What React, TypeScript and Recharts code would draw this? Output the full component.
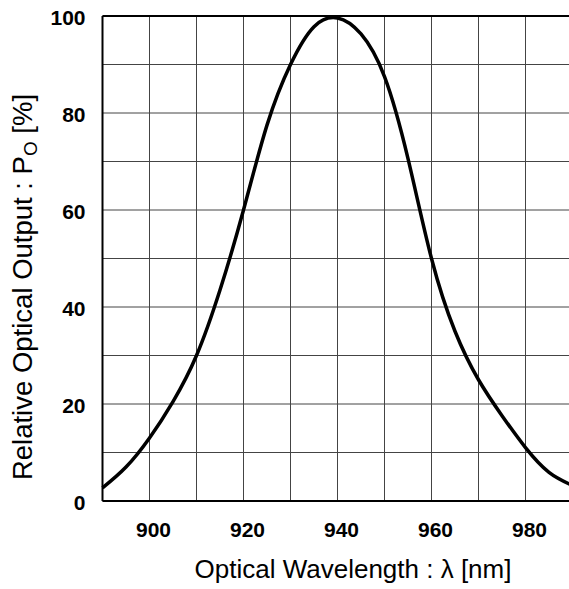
import React from "react";
import {
  LineChart,
  Line,
  XAxis,
  YAxis,
  CartesianGrid,
  ReferenceLine,
  Label,
} from "recharts";

// values
const wavelengths = [
  890, 895, 900, 905, 910, 915, 920, 925, 930, 935, 940, 945, 950, 955, 960,
  965, 970, 975, 980, 985, 990,
];
const relativeOutput = [
  2.7, 7, 13, 20.5, 30, 43.5, 60, 77.5, 90, 97.8, 99.6, 96.3, 87.5, 70.6, 50,
  35, 25, 17.6, 11, 5.9, 3.2,
];
const xTicks = [890, 900, 910, 920, 930, 940, 950, 960, 970, 980, 990];
const yTicks = [0, 10, 20, 30, 40, 50, 60, 70, 80, 90, 100];

const data = wavelengths.map((w, i) => ({ w, output: relativeOutput[i] }));

const FONT = "'Liberation Sans', Arial, sans-serif";
const everyOther = (v: number) => (v % 20 === 0 ? String(v) : "");

const App = () => {
  return (
    <div
      style={{
        position: "absolute",
        left: 0,
        top: 0,
        width: 569,
        height: 589,
        overflow: "hidden",
        background: "#fff",
      }}
    >
      <LineChart
        width={580}
        height={589}
        data={data}
        margin={{ top: 16, right: 7.5, bottom: 0, left: 0 }}
      >
        <CartesianGrid stroke="#444" strokeWidth={1} />
        <XAxis
          dataKey="w"
          type="number"
          domain={[890, 990]}
          ticks={xTicks}
          interval={0}
          height={88}
          tickSize={0}
          tickMargin={21}
          tickLine={false}
          axisLine={{ stroke: "#000", strokeWidth: 2 }}
          tickFormatter={everyOther}
          tick={{
            fill: "#000",
            fontSize: 21,
            fontWeight: "bold",
            fontFamily: FONT,
            dx: 4,
          }}
        >
          <Label
            content={(props: any) => {
              const vb = props.viewBox;
              return (
                <text
                  x={vb.x + vb.width / 2 + 15.5}
                  y={vb.y + 77}
                  textAnchor="middle"
                  fontSize={26}
                  fontFamily={FONT}
                  fill="#000"
                >
                  Optical Wavelength : λ [nm]
                </text>
              );
            }}
          />
        </XAxis>
        <YAxis
          type="number"
          domain={[0, 100]}
          ticks={yTicks}
          interval={0}
          width={102.5}
          tickSize={0}
          tickMargin={17}
          tickLine={false}
          axisLine={{ stroke: "#000", strokeWidth: 2 }}
          tickFormatter={everyOther}
          tick={{
            fill: "#000",
            fontSize: 21,
            fontWeight: "bold",
            fontFamily: FONT,
            dy: 1.5,
          }}
        >
          <Label
            content={(props: any) => {
              const vb = props.viewBox;
              const cx = 32;
              const cy = vb.y + vb.height / 2 + 28.5;
              return (
                <text
                  x={cx}
                  y={cy}
                  transform={`rotate(-90, ${cx}, ${cy})`}
                  textAnchor="middle"
                  fontSize={27.5}
                  fontFamily={FONT}
                  fill="#000"
                >
                  Relative Optical Output : P
                  <tspan dy={5} fontSize={19}>
                    O
                  </tspan>
                  <tspan dy={-5}> [%]</tspan>
                </text>
              );
            }}
          />
        </YAxis>
        <ReferenceLine y={100} stroke="#000" strokeWidth={2} />
        <Line
          dataKey="output"
          type="natural"
          stroke="#000"
          strokeWidth={3.5}
          dot={false}
          isAnimationActive={false}
        />
      </LineChart>
    </div>
  );
};

export default App;
